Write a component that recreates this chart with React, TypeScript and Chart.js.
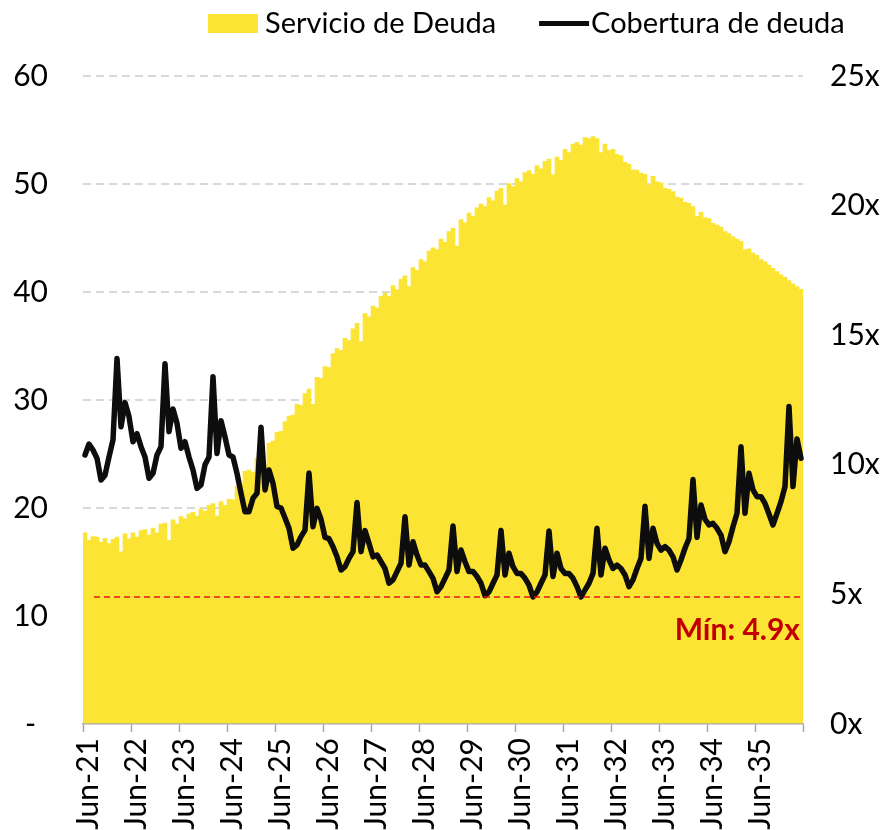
import React, { useEffect, useRef } from 'react';
import { Chart, registerables } from 'chart.js';

Chart.register(...registerables);

// ---- Data ----
const monthNames = ['Ene', 'Feb', 'Mar', 'Abr', 'May', 'Jun', 'Jul', 'Ago', 'Sep', 'Oct', 'Nov', 'Dic'];
const firstYear = 21;
const firstMonthIndex = 5; // Jun
const monthCount = 180;

const categories: string[] = [];
for (let i = 0; i < monthCount; i++) {
  const m = (firstMonthIndex + i) % 12;
  const y = firstYear + Math.floor((firstMonthIndex + i) / 12);
  categories.push(`${monthNames[m]}-${y}`);
}

const xTickLabels = ['Jun-21', 'Jun-22', 'Jun-23', 'Jun-24', 'Jun-25', 'Jun-26', 'Jun-27', 'Jun-28', 'Jun-29', 'Jun-30', 'Jun-31', 'Jun-32', 'Jun-33', 'Jun-34', 'Jun-35'];
const leftTickLabels = ['-', '10', '20', '30', '40', '50', '60'];
const rightTickLabels = ['0x', '5x', '10x', '15x', '20x', '25x'];

// Servicio de Deuda (left axis)
const servicioDeuda = [
  17.7, 17.0, 17.35, 17.3, 16.85, 17.2, 16.7, 17.1, 17.3, 15.95, 17.6, 17.15,
  17.7, 17.3, 17.9, 18.0, 17.5, 18.15, 17.7, 18.5, 18.6, 17.0, 18.9, 18.5,
  19.2, 19.0, 19.45, 19.6, 19.25, 19.9, 19.7, 20.25, 20.4, 19.25, 20.6, 20.25,
  20.8, 20.75, 22.0, 22.2, 23.4, 23.5, 23.3, 24.6, 24.7, 24.0, 26.0, 26.2,
  27.0, 27.1, 28.0, 28.5, 28.6, 29.6, 29.5, 30.6, 31.0, 29.6, 32.1, 32.0,
  33.1, 33.0, 34.3, 34.75, 34.6, 35.7, 35.5, 36.6, 37.1, 35.4, 38.0, 37.7,
  38.7, 38.5, 39.6, 39.9, 39.6, 40.6, 40.2, 41.2, 41.5, 40.5, 42.25, 42.0,
  43.0, 42.8, 43.8, 44.1, 43.9, 44.9, 44.6, 45.6, 45.9, 44.25, 46.7, 46.4,
  47.3, 47.0, 47.8, 48.15, 47.9, 48.75, 48.45, 49.35, 49.6, 48.05, 50.05, 49.75,
  50.5, 50.2, 51.05, 51.25, 50.9, 51.7, 51.4, 52.1, 52.3, 50.85, 52.5, 52.2,
  53.2, 52.9, 53.7, 53.85, 53.6, 54.3, 54.2, 54.4, 54.2, 52.9, 53.7, 53.1,
  53.2, 52.75, 52.6, 52.0, 51.85, 51.3, 51.3, 51.0, 50.9, 49.9, 50.7, 50.2,
  50.1, 49.6, 49.5, 49.3, 48.8, 48.7, 48.3, 48.2, 47.9, 47.0, 47.4, 46.9,
  46.8, 46.35, 46.2, 46.0, 45.6, 45.4, 45.1, 44.9, 44.7, 43.9, 44.0, 43.6,
  43.4, 43.0, 42.8, 42.5, 42.2, 41.9, 41.6, 41.35, 41.05, 40.75, 40.5, 40.25,
];

// Cobertura de deuda (right axis, x)
const coberturaDeuda = [
  10.38, 10.8, 10.57, 10.25, 9.41, 9.6, 10.3, 10.96, 14.1, 11.47, 12.4, 11.86,
  10.89, 11.2, 10.7, 10.3, 9.48, 9.67, 10.38, 10.7, 13.9, 11.28, 12.15, 11.6,
  10.64, 10.89, 10.3, 9.8, 9.09, 9.22, 10.0, 10.3, 13.4, 10.44, 11.7, 11.08,
  10.38, 10.3, 9.67, 8.9, 8.19, 8.19, 8.71, 8.9, 11.45, 9.03, 9.8, 9.29,
  8.39, 8.33, 7.95, 7.55, 6.78, 6.91, 7.23, 7.48, 9.68, 7.61, 8.32, 7.9,
  7.2, 7.15, 6.84, 6.45, 5.94, 6.07, 6.39, 6.65, 8.55, 6.65, 7.46, 6.97,
  6.45, 6.52, 6.26, 6.0, 5.43, 5.56, 5.88, 6.2, 8.0, 6.13, 7.03, 6.52,
  6.13, 6.13, 5.88, 5.62, 5.1, 5.3, 5.62, 5.94, 7.64, 5.88, 6.71, 6.26,
  5.88, 5.88, 5.69, 5.43, 4.95, 5.1, 5.43, 5.75, 7.47, 5.75, 6.59, 6.07,
  5.81, 5.81, 5.62, 5.36, 4.9, 5.1, 5.43, 5.75, 7.45, 5.69, 6.59, 6.0,
  5.81, 5.81, 5.62, 5.3, 4.9, 5.17, 5.43, 5.81, 7.55, 5.75, 6.78, 6.33,
  6.0, 6.13, 6.0, 5.75, 5.3, 5.56, 6.0, 6.39, 8.4, 6.39, 7.55, 6.97,
  6.71, 6.84, 6.71, 6.45, 5.94, 6.33, 6.78, 7.16, 9.43, 7.2, 8.45, 7.9,
  7.68, 7.74, 7.55, 7.29, 6.65, 7.03, 7.61, 8.13, 10.7, 8.13, 9.67, 9.03,
  8.77, 8.77, 8.51, 8.1, 7.68, 8.13, 8.58, 9.16, 12.25, 9.16, 11.0, 10.25,
];

const minCobertura = 4.9;
const minLabel = 'Mín: 4.9x';

const yellow = '#FCE435';
const black = '#0d0d0d';
const fontFamily = 'Lato, "Noto Sans", sans-serif';

const legendPlugin = {
  id: 'customLegend',
  afterDraw(chart: any) {
    const ctx = chart.ctx;
    const [bars, line] = chart.data.datasets;
    ctx.save();
    ctx.font = `29px ${fontFamily}`;
    ctx.textBaseline = 'alphabetic';
    ctx.textAlign = 'left';
    const baseline = 33;
    const cy = 23.5;
    let x = 208;
    ctx.fillStyle = bars.backgroundColor;
    ctx.fillRect(x, cy - 9.5, 50, 19);
    x += 57;
    ctx.fillStyle = '#000';
    ctx.fillText(bars.label, x, baseline);
    x += ctx.measureText(bars.label).width + 43;
    ctx.strokeStyle = line.borderColor;
    ctx.lineWidth = 5;
    ctx.beginPath();
    ctx.moveTo(x, cy);
    ctx.lineTo(x + 50, cy);
    ctx.stroke();
    x += 52;
    ctx.fillText(line.label, x, baseline);
    ctx.restore();
  },
};

const minLinePlugin = {
  id: 'minLine',
  afterDatasetsDraw(chart: any) {
    const ctx = chart.ctx;
    const area = chart.chartArea;
    const yScale = chart.scales.y1;
    const y = yScale.getPixelForValue(minCobertura);
    ctx.save();
    ctx.strokeStyle = '#E8141B';
    ctx.lineWidth = 1.6;
    ctx.setLineDash([6, 4]);
    ctx.beginPath();
    ctx.moveTo(area.left + 11, y);
    ctx.lineTo(area.right - 2, y);
    ctx.stroke();
    ctx.setLineDash([]);
    ctx.font = `bold 30px ${fontFamily}`;
    ctx.fillStyle = '#C00000';
    ctx.textAlign = 'right';
    ctx.textBaseline = 'alphabetic';
    ctx.fillText(minLabel, area.right - 3, y + 43);
    ctx.restore();
  },
};

export default function App() {
  const canvasRef = useRef<HTMLCanvasElement | null>(null);

  useEffect(() => {
    if (!canvasRef.current) return;
    Chart.defaults.font.family = fontFamily;
    Chart.defaults.color = '#000';
    const chart = new Chart(canvasRef.current, {
      type: 'bar',
      data: {
        labels: categories,
        datasets: [
          {
            type: 'bar',
            label: 'Servicio de Deuda',
            data: servicioDeuda,
            backgroundColor: yellow,
            borderWidth: 0,
            categoryPercentage: 1,
            barPercentage: 1,
            yAxisID: 'y',
            order: 2,
          } as any,
          {
            type: 'line',
            label: 'Cobertura de deuda',
            data: coberturaDeuda,
            borderColor: black,
            backgroundColor: black,
            borderWidth: 5.5,
            pointRadius: 0,
            tension: 0,
            borderJoinStyle: 'round',
            borderCapStyle: 'round',
            yAxisID: 'y1',
            order: 1,
          } as any,
        ],
      },
      options: {
        responsive: false,
        animation: false,
        devicePixelRatio: 1,
        events: [],
        layout: { padding: { top: 76, left: 0, right: 0, bottom: 0 } },
        plugins: {
          legend: { display: false },
          tooltip: { enabled: false },
          title: { display: false },
        },
        scales: {
          x: {
            type: 'category',
            offset: true,
            grid: {
              display: true,
              offset: true,
              drawOnChartArea: false,
              drawTicks: true,
              tickLength: 8,
              tickWidth: 1.5,
              tickColor: (c: any) => (c.index === undefined || c.index % 12 === 0 ? '#A6A6A6' : 'rgba(0,0,0,0)'),
              color: 'rgba(0,0,0,0)',
            },
            border: { display: true, color: '#A6A6A6', width: 1.5 },
            ticks: {
              autoSkip: false,
              maxRotation: 90,
              minRotation: 90,
              padding: 6,
              labelOffset: 3,
              font: { size: 30, family: fontFamily },
              color: '#000',
              callback: (_v: any, idx: number) => (idx % 12 === 0 ? xTickLabels[idx / 12] : ''),
            },
            afterFit: (scale: any) => {
              scale.height = 106;
            },
          },
          y: {
            type: 'linear',
            position: 'left',
            min: 0,
            max: 60,
            grid: {
              display: true,
              drawTicks: false,
              color: (c: any) => (c.tick && c.tick.value === 0 ? 'rgba(0,0,0,0)' : '#D9D9D9'),
              lineWidth: 2,
            },
            border: { display: false, dash: [8, 5] },
            ticks: {
              stepSize: 10,
              padding: 35,
              crossAlign: 'center',
              font: { size: 30, family: fontFamily },
              color: '#000',
              callback: (v: any) => leftTickLabels[Math.round(Number(v) / 10)],
            },
            afterFit: (scale: any) => {
              scale.width = 83;
            },
          },
          y1: {
            type: 'linear',
            position: 'right',
            min: 0,
            max: 25,
            grid: { display: false, drawOnChartArea: false, drawTicks: false },
            border: { display: false },
            ticks: {
              stepSize: 5,
              padding: 27,
              crossAlign: 'near',
              font: { size: 30, family: fontFamily },
              color: '#000',
              callback: (v: any) => rightTickLabels[Math.round(Number(v) / 5)],
            },
            afterFit: (scale: any) => {
              scale.width = 81;
            },
          },
        },
      } as any,
      plugins: [legendPlugin, minLinePlugin],
    });
    return () => chart.destroy();
  }, []);

  return (
    <div style={{ position: 'absolute', left: 0, top: 0, width: 884, height: 830, background: '#fff', overflow: 'hidden' }}>
      <canvas ref={canvasRef} width={884} height={830} style={{ display: 'block' }} />
    </div>
  );
}
